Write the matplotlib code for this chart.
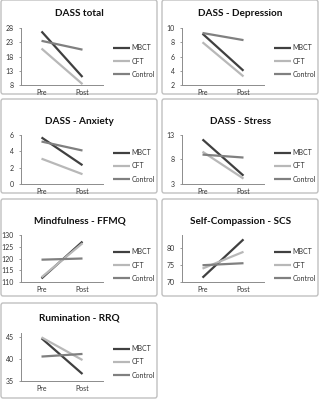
import matplotlib
matplotlib.use("Agg")
import matplotlib.pyplot as plt
from matplotlib.patches import FancyBboxPatch

plt.rcParams["font.family"] = ["Lato", "DejaVu Sans"]

TIMES = ["Pre", "Post"]
GROUPS = ["MBCT", "CFT", "Control"]
COLORS = {"MBCT": "#404040", "CFT": "#b8b8b8", "Control": "#808080"}

TITLES = [
    "DASS total",
    "DASS - Depression",
    "DASS - Anxiety",
    "DASS - Stress",
    "Mindfulness - FFMQ",
    "Self-Compassion - SCS",
    "Rumination - RRQ",
]

MBCT = [
    [26.8, 10.8],
    [9.2, 4.0],
    [5.7, 2.3],
    [12.1, 4.7],
    [111.5, 127.2],
    [71.3, 82.7],
    [44.8, 36.6],
]
CFT = [
    [20.8, 8.3],
    [8.0, 3.2],
    [3.1, 1.2],
    [9.6, 4.1],
    [112.0, 126.5],
    [74.0, 79.0],
    [45.0, 39.8],
]
CONTROL = [
    [23.5, 20.4],
    [9.3, 8.3],
    [5.2, 4.1],
    [9.0, 8.4],
    [119.5, 120.0],
    [75.0, 75.6],
    [40.6, 41.2],
]

YLIMS = [(8, 28), (2, 10), (0, 6), (3, 13), (110, 130), (70, 84), (35, 46)]
YTICKS = [
    [8, 13, 18, 23, 28],
    [2, 4, 6, 8, 10],
    [0, 2, 4, 6],
    [3, 8, 13],
    [110, 115, 120, 125, 130],
    [70, 75, 80],
    [35, 40, 45],
]

W, H = 324, 400
# per row pixel geometry: panel top, panel bottom, title y, axes top, axes bottom, legend centre
ROWS = [
    (0, 94, 13, 28, 85, 61),
    (99, 193, 121, 135, 184, 166),
    (199, 296, 221, 235, 282, 265),
    (303, 398, 318, 333, 381, 362),
]
COL_X = [1, 162]
PANEL_W = 157


def fx(px):
    return px / W


def fy(py):
    return 1 - py / H


fig = plt.figure(figsize=(W / 100, H / 100), dpi=100)

for i, title in enumerate(TITLES):
    row, col = divmod(i, 2)
    ptop, pbot, ty, atop, abot, legy = ROWS[row]
    x0 = COL_X[col]

    # light rounded frame around each small chart
    box = FancyBboxPatch(
        (fx(x0), fy(pbot)), fx(PANEL_W - 1), (pbot - ptop) / H,
        boxstyle="round,pad=0,rounding_size=0.006",
        transform=fig.transFigure, facecolor="none",
        edgecolor="#c0c0c0", linewidth=1.0, zorder=-1,
    )
    fig.patches.append(box)

    fig.text(fx(x0 + PANEL_W / 2), fy(ty), title, ha="center", va="center",
             fontsize=7.2, fontweight="bold", color="#111111")

    ax = fig.add_axes([fx(x0 + 20), fy(abot), fx(82), (abot - atop) / H])
    for name, vals in zip(GROUPS, [MBCT[i], CFT[i], CONTROL[i]]):
        ax.plot(TIMES, vals, color=COLORS[name], linewidth=1.6,
                label=name, solid_capstyle="butt")

    ax.set_xlim(-0.5, 1.5)
    ax.set_ylim(*YLIMS[i])
    ax.set_yticks(YTICKS[i])
    ax.patch.set_alpha(0)
    for side in ("top", "right"):
        ax.spines[side].set_visible(False)
    for side in ("left", "bottom"):
        ax.spines[side].set_color("#8c8c8c")
        ax.spines[side].set_linewidth(0.7)
    ax.tick_params(axis="y", length=1.8, width=0.6, color="#8c8c8c",
                   labelsize=5, labelcolor="#333333", pad=3.5)
    ax.tick_params(axis="x", length=0, labelsize=5, labelcolor="#333333",
                   pad=3)

    ax.legend(
        loc="center left",
        bbox_to_anchor=(fx(x0 + 112), fy(legy)),
        bbox_transform=fig.transFigure,
        frameon=False, fontsize=5, handlelength=2.4,
        handletextpad=0.3, labelspacing=0.9,
        borderpad=0, borderaxespad=0,
        labelcolor="#333333",
    )

fig.savefig("out.png", dpi=100)
